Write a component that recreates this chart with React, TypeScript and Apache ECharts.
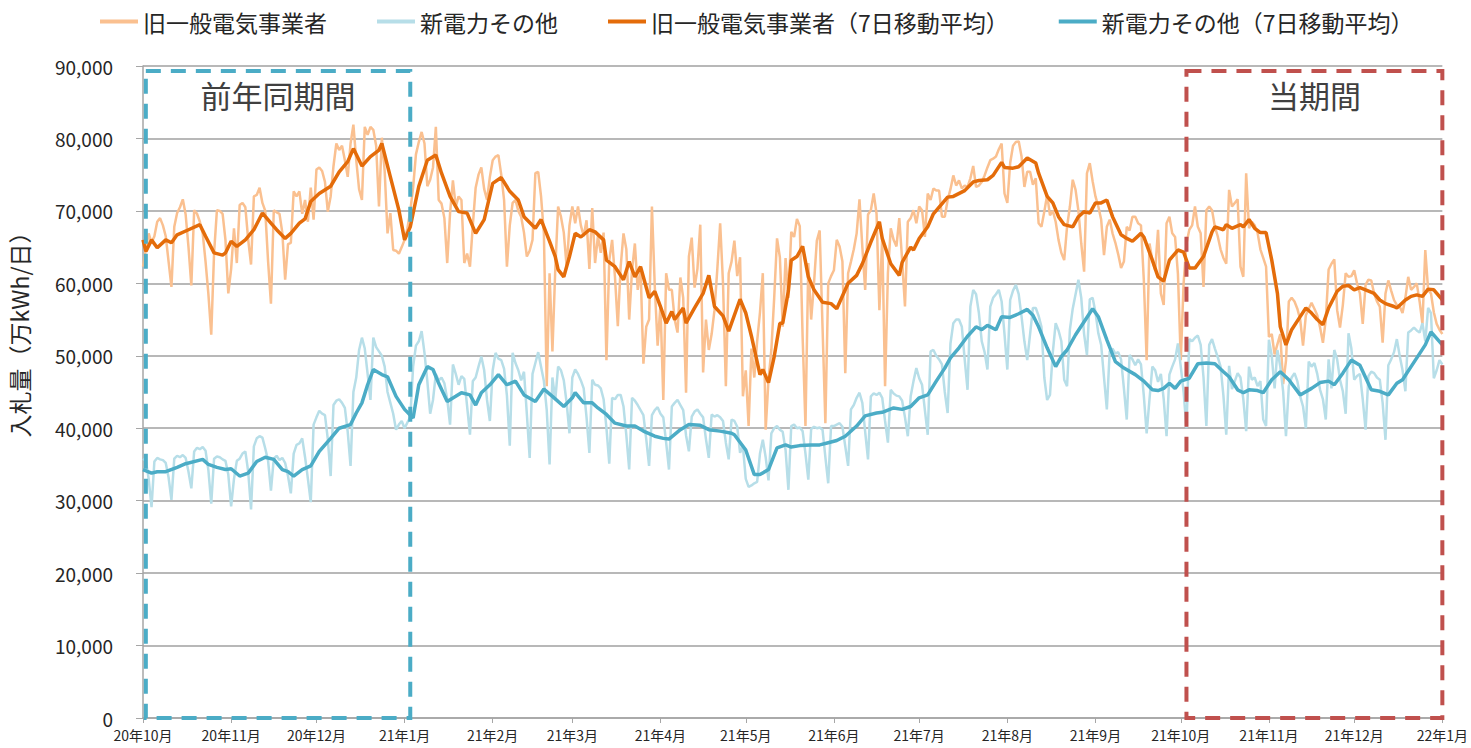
import React, { useEffect, useRef } from "react";
import * as echarts from "echarts";

// ---- data (unit: 千 → multiplied by 1000 => 万kWh/日) ----
const months = [
  "2020-10", "2020-11", "2020-12", "2021-01", "2021-02", "2021-03", "2021-04", "2021-05",
  "2021-06", "2021-07", "2021-08", "2021-09", "2021-10", "2021-11", "2021-12", "2022-01",
];

// 旧一般電気事業者 (daily), one row per month
const oldDaily: number[][] = [
  [62.3, 64.7, 66.9, 65.6, 66.5, 68.5, 69.0, 68.0, 66.5, 63.0, 59.5, 67.8, 69.7, 70.5, 71.6, 69.5, 65.0, 59.7, 70.1, 69.6, 68.5, 66.9, 63.0, 58.5, 52.9, 64.2, 70.1, 70.0, 69.6, 66.0, 58.6],
  [62.0, 67.6, 62.8, 70.8, 71.1, 70.5, 66.0, 62.6, 72.0, 72.2, 73.2, 71.1, 70.0, 63.0, 57.2, 70.1, 69.8, 69.6, 67.0, 60.5, 65.4, 65.6, 72.7, 72.0, 72.7, 69.6, 71.5, 68.5, 73.2, 68.8],
  [75.7, 76.0, 75.5, 74.0, 69.9, 72.0, 76.2, 79.3, 78.4, 79.0, 77.0, 74.7, 79.3, 81.9, 77.0, 73.0, 71.5, 81.6, 80.5, 81.6, 81.2, 79.0, 70.6, 80.1, 75.5, 66.9, 69.7, 64.6, 64.5, 64.1, 65.0],
  [66.0, 67.6, 70.0, 73.2, 77.8, 79.5, 80.9, 79.3, 73.4, 74.3, 76.0, 81.6, 71.5, 71.0, 69.0, 62.8, 69.7, 74.2, 70.6, 72.0, 71.5, 62.8, 64.1, 62.3, 68.0, 73.2, 75.0, 76.0, 73.0, 71.5, 74.7],
  [77.0, 77.5, 77.7, 75.0, 71.5, 62.3, 68.0, 71.1, 71.5, 70.0, 69.2, 67.0, 63.7, 64.5, 66.0, 75.2, 75.4, 72.0, 66.9, 45.8, 61.4, 50.6, 61.9, 70.6, 69.2, 67.0, 62.3, 68.0],
  [70.6, 68.3, 70.6, 68.0, 66.5, 68.7, 62.0, 70.4, 62.8, 66.5, 64.2, 67.0, 49.4, 63.2, 66.0, 60.9, 54.1, 62.3, 66.9, 64.7, 55.0, 61.8, 65.5, 59.1, 62.0, 48.9, 54.0, 55.0, 70.6, 59.6, 51.4],
  [57.0, 43.9, 61.4, 59.1, 59.1, 55.0, 53.2, 60.8, 58.0, 44.9, 63.7, 66.3, 59.4, 62.0, 68.1, 47.7, 55.0, 50.8, 53.0, 56.3, 62.0, 68.3, 60.0, 45.8, 61.4, 63.0, 65.9, 61.0, 63.6, 44.4],
  [48.0, 40.3, 51.0, 47.0, 52.0, 56.0, 61.4, 39.8, 46.7, 50.8, 58.0, 66.2, 63.6, 54.0, 63.5, 58.0, 67.1, 66.4, 68.9, 67.9, 52.6, 40.3, 62.8, 55.0, 60.0, 65.9, 67.3, 54.0, 40.7, 60.0, 61.0],
  [61.8, 66.0, 65.1, 63.0, 47.6, 61.4, 63.0, 64.7, 66.9, 71.6, 65.0, 59.1, 69.5, 70.1, 72.4, 69.6, 56.3, 66.4, 45.8, 61.4, 67.6, 66.0, 65.1, 69.0, 63.2, 56.8, 68.5, 69.0, 70.1, 68.3],
  [70.6, 70.1, 66.4, 72.4, 71.5, 73.1, 72.8, 72.8, 69.2, 69.2, 71.5, 73.0, 74.9, 73.5, 74.2, 73.1, 73.5, 73.3, 74.5, 76.2, 73.3, 73.5, 74.0, 74.9, 76.0, 77.0, 77.2, 77.5, 78.5, 79.3, 72.4],
  [71.1, 76.6, 79.0, 79.5, 79.6, 77.5, 73.3, 75.4, 75.4, 73.6, 74.5, 68.3, 67.8, 69.9, 72.2, 69.4, 70.0, 68.5, 66.0, 64.2, 63.2, 67.8, 70.6, 74.3, 72.9, 70.0, 65.5, 61.6, 75.2, 76.6, 74.1],
  [72.0, 70.6, 68.8, 63.9, 67.8, 68.8, 66.9, 65.6, 64.0, 62.1, 63.0, 67.8, 67.3, 69.2, 69.2, 68.3, 68.0, 60.5, 49.4, 65.5, 63.2, 61.8, 67.4, 58.6, 57.0, 68.3, 69.2, 66.9, 66.4, 61.3],
  [49.4, 60.0, 65.5, 67.4, 68.0, 70.6, 67.8, 66.9, 59.5, 70.1, 70.6, 70.1, 67.8, 66.5, 64.7, 63.5, 62.7, 72.9, 70.6, 71.1, 71.6, 62.3, 60.9, 75.2, 67.6, 68.5, 68.0, 67.0, 64.7, 63.5, 62.3],
  [52.6, 53.0, 50.2, 51.6, 53.0, 46.1, 49.3, 57.5, 58.0, 57.5, 56.5, 55.0, 51.4, 55.6, 56.5, 57.3, 56.5, 55.6, 53.9, 51.8, 55.0, 61.9, 62.7, 63.3, 56.3, 53.9, 57.0, 61.4, 60.9, 61.0],
  [61.8, 60.0, 58.6, 54.4, 59.8, 60.5, 60.4, 58.6, 57.5, 56.8, 51.8, 58.6, 60.4, 59.0, 57.7, 57.0, 56.8, 55.9, 58.0, 60.9, 59.1, 59.5, 60.0, 57.5, 54.4, 64.6, 59.1, 58.6, 56.0, 54.4, 53.6],
  [53.0],
];

// 新電力その他 (daily), one row per month
const newDaily: number[][] = [
  [35.8, 35.5, 33.0, 29.1, 35.4, 35.9, 35.7, 35.6, 35.2, 33.2, 30.1, 35.8, 36.2, 36.0, 36.3, 35.9, 34.0, 31.7, 36.8, 37.3, 37.1, 37.4, 36.9, 34.2, 29.6, 35.8, 36.1, 36.0, 35.7, 35.5, 33.6],
  [29.2, 33.0, 35.5, 35.8, 36.5, 36.8, 34.0, 28.8, 37.5, 38.6, 38.9, 38.7, 37.2, 35.5, 31.4, 35.8, 36.2, 35.6, 35.9, 35.2, 33.4, 31.0, 36.5, 37.7, 37.9, 38.6, 36.0, 33.0, 29.8, 40.5],
  [41.5, 42.4, 42.0, 41.8, 38.5, 33.4, 43.2, 43.8, 44.0, 43.5, 42.8, 39.5, 34.8, 45.0, 47.0, 50.8, 52.5, 51.0, 47.5, 43.9, 52.5, 51.2, 50.6, 50.0, 48.5, 45.0, 43.5, 42.0, 39.8, 40.5, 41.0],
  [40.0, 40.8, 41.5, 48.5, 51.4, 52.0, 53.4, 50.4, 46.5, 42.0, 43.9, 47.5, 46.6, 47.0, 46.2, 44.0, 40.5, 48.8, 47.5, 46.0, 47.2, 46.8, 43.0, 39.1, 46.5, 47.0, 48.5, 49.9, 48.0, 43.9, 41.0],
  [48.0, 50.4, 49.6, 49.4, 48.2, 44.5, 37.6, 50.4, 49.0, 48.0, 46.6, 47.8, 42.0, 35.9, 47.5, 49.0, 50.5, 48.5, 46.5, 42.5, 35.0, 47.0, 43.9, 48.5, 48.0, 46.6, 43.5, 39.3],
  [47.0, 48.1, 47.5, 46.6, 45.5, 41.5, 36.6, 46.7, 46.0, 45.9, 45.5, 44.0, 40.0, 35.1, 44.2, 44.0, 44.6, 44.6, 43.0, 39.0, 34.3, 44.2, 43.8, 43.2, 42.5, 41.8, 38.5, 34.8, 41.8, 42.5, 42.9],
  [42.0, 41.5, 38.0, 34.3, 43.0, 43.5, 43.9, 43.2, 42.5, 39.0, 36.8, 41.6, 42.3, 42.6, 42.0, 41.5, 38.5, 35.9, 41.9, 41.6, 41.8, 41.5, 41.0, 38.0, 35.7, 41.2, 41.0, 40.2, 36.6, 37.5],
  [33.0, 31.9, 32.1, 32.4, 32.6, 36.5, 38.4, 36.0, 32.8, 39.3, 40.0, 40.3, 39.8, 39.5, 37.0, 31.5, 40.3, 40.5, 40.0, 40.1, 39.6, 36.5, 32.9, 39.9, 40.2, 40.0, 40.1, 39.8, 36.0, 32.4, 40.3],
  [40.3, 40.5, 40.7, 40.2, 37.5, 34.8, 42.6, 43.2, 44.2, 44.9, 43.5, 39.5, 35.7, 44.4, 44.8, 44.6, 44.9, 44.2, 41.0, 38.0, 45.3, 44.8, 44.5, 44.4, 43.8, 41.5, 38.9, 44.4, 46.5, 48.3],
  [46.9, 46.0, 42.5, 39.1, 50.6, 50.8, 50.0, 49.5, 48.8, 45.0, 42.1, 51.7, 54.5, 55.0, 55.0, 54.0, 49.5, 45.3, 56.8, 59.1, 58.5, 55.9, 52.0, 50.5, 48.1, 56.8, 58.0, 58.5, 59.1, 57.5, 53.0],
  [48.1, 57.7, 59.0, 59.8, 58.5, 55.4, 52.0, 49.4, 53.0, 56.6, 56.6, 55.5, 54.0, 47.0, 43.9, 44.6, 50.5, 54.5, 53.5, 52.0, 46.7, 45.8, 53.6, 56.5, 58.5, 60.5, 58.0, 53.0, 50.1, 57.8, 58.0],
  [56.0, 53.1, 51.5, 47.0, 42.6, 50.6, 51.0, 50.3, 50.5, 49.5, 45.5, 41.2, 50.1, 49.5, 48.7, 49.5, 48.8, 44.5, 39.3, 44.0, 48.5, 48.0, 46.4, 47.5, 44.0, 38.9, 47.4, 48.5, 49.5, 51.7],
  [48.5, 45.0, 40.0, 52.3, 52.0, 52.5, 52.8, 51.5, 47.0, 40.3, 51.5, 52.3, 51.0, 49.8, 48.5, 44.5, 39.1, 48.6, 45.4, 46.5, 47.6, 47.0, 44.0, 39.6, 48.5, 46.7, 47.0, 45.8, 46.5, 41.2, 40.3],
  [52.2, 50.0, 45.5, 50.8, 48.5, 45.1, 38.9, 45.8, 47.0, 47.6, 46.5, 44.4, 43.0, 40.0, 49.2, 48.5, 49.0, 47.5, 45.3, 44.0, 41.2, 49.5, 45.5, 50.8, 49.5, 46.7, 45.1, 42.0, 53.1, 51.0],
  [46.7, 47.2, 47.5, 44.0, 39.8, 47.2, 47.8, 47.6, 47.0, 46.7, 43.5, 38.4, 48.7, 49.5, 50.5, 52.3, 50.0, 48.0, 45.1, 53.2, 53.5, 53.9, 53.5, 53.2, 54.5, 52.0, 56.6, 55.9, 46.9, 48.0, 49.4],
  [48.8],
];

// 7日移動平均: [days since 2020-10-01, value]
const oldMA: [number, number][] = [
  [0, 66.0], [1, 64.4], [3, 66.0], [5, 64.9], [8, 66.0], [10, 65.6], [12, 66.7], [16, 67.4], [20, 68.1], [22, 66.5],
  [25, 64.2], [28, 63.9], [29, 64.2], [31, 65.8], [33, 65.1], [36, 66.0], [39, 67.4], [42, 69.7], [45, 68.3], [47, 67.4],
  [50, 66.2], [52, 66.9], [55, 68.3], [57, 68.9], [59, 71.3], [62, 72.4], [66, 73.4], [69, 75.4], [72, 76.8], [74, 78.6],
  [77, 76.2], [80, 77.5], [83, 78.4], [84, 79.3], [87, 74.7], [90, 70.1], [92, 66.0], [94, 67.8], [97, 73.4], [100, 77.0],
  [103, 77.7], [105, 75.2], [108, 72.0], [111, 69.9], [114, 69.7], [117, 66.9], [120, 68.8], [123, 73.8], [126, 74.6], [129, 72.7],
  [132, 71.5], [134, 69.2], [138, 67.6], [140, 68.8], [143, 65.8], [145, 63.7], [146, 61.9], [148, 60.9], [150, 63.7], [152, 66.9],
  [154, 66.4], [157, 67.4], [159, 67.1], [162, 66.0], [163, 63.2], [166, 62.3], [169, 60.5], [171, 63.0], [173, 60.9], [175, 62.3],
  [178, 58.0], [180, 58.9], [182, 56.8], [184, 54.5], [186, 56.1], [187, 55.0], [190, 56.6], [191, 54.5], [194, 56.6], [197, 58.6],
  [199, 61.1], [201, 56.8], [204, 55.5], [206, 53.4], [210, 57.8], [212, 55.9], [214, 52.7], [217, 47.4], [218, 48.1], [220, 46.3],
  [222, 49.9], [224, 54.5], [225, 54.5], [227, 59.0], [228, 63.2], [230, 63.7], [232, 65.1], [234, 60.9], [236, 59.1], [239, 57.4],
  [242, 57.2], [244, 56.5], [248, 60.0], [251, 61.1], [253, 62.7], [256, 65.7], [259, 68.5], [260, 66.2], [263, 62.7], [266, 61.1],
  [267, 62.9], [270, 65.0], [271, 64.6], [273, 66.2], [276, 67.8], [278, 69.6], [283, 71.9], [285, 72.0], [289, 72.8], [292, 74.0],
  [294, 74.2], [297, 74.3], [299, 74.9], [302, 76.7], [303, 76.0], [306, 75.9], [308, 76.1], [311, 77.3], [314, 76.6], [315, 75.2],
  [318, 72.0], [320, 71.1], [322, 69.2], [324, 68.1], [327, 67.8], [329, 69.2], [331, 69.9], [333, 69.7], [335, 71.1], [337, 71.1],
  [339, 71.5], [341, 69.2], [344, 66.7], [346, 66.2], [348, 65.8], [351, 66.9], [352, 66.4], [355, 63.2], [357, 60.9], [359, 60.3],
  [361, 63.2], [364, 64.6], [366, 64.3], [368, 62.1], [370, 62.1], [373, 63.7], [376, 67.1], [377, 67.8], [380, 67.4], [381, 68.1],
  [383, 67.6], [386, 68.1], [387, 67.8], [389, 68.8], [391, 67.6], [393, 67.0], [395, 67.0], [397, 63.2], [399, 58.6], [400, 54.0],
  [402, 51.5], [404, 53.6], [407, 55.4], [409, 56.6], [411, 55.9], [413, 55.0], [415, 54.3], [417, 56.6], [420, 58.9], [422, 59.6],
  [424, 59.7], [426, 59.1], [428, 59.4], [430, 59.1], [433, 58.6], [435, 57.7], [437, 57.2], [440, 56.8], [441, 56.6], [444, 57.7],
  [446, 58.2], [448, 58.4], [450, 58.2], [452, 59.2], [454, 59.1], [457, 57.7],
];

const newMA: [number, number][] = [
  [0, 34.3], [3, 33.8], [5, 34.0], [8, 34.0], [12, 34.6], [15, 35.1], [21, 35.7], [23, 35.0], [26, 34.6], [29, 34.3],
  [31, 34.4], [34, 33.4], [37, 33.8], [40, 35.4], [43, 36.0], [46, 35.7], [49, 34.3], [51, 34.0], [53, 33.4], [56, 34.3],
  [59, 34.8], [62, 36.8], [66, 38.6], [69, 40.0], [73, 40.5], [75, 42.1], [77, 43.5], [79, 46.0], [81, 48.1], [84, 47.4],
  [86, 47.1], [89, 44.4], [92, 42.6], [95, 41.4], [97, 46.0], [100, 48.5], [102, 48.1], [104, 46.2], [107, 43.7], [110, 44.4],
  [112, 44.9], [115, 44.6], [117, 43.2], [119, 44.9], [122, 46.0], [125, 47.4], [128, 46.0], [131, 46.5], [134, 44.6], [138, 43.7],
  [141, 45.4], [144, 44.4], [148, 43.0], [151, 44.2], [152, 44.9], [155, 43.5], [158, 43.5], [160, 42.8], [163, 41.9], [166, 40.7],
  [170, 40.3], [173, 40.3], [176, 39.6], [180, 38.9], [183, 38.6], [185, 38.5], [189, 39.8], [192, 40.5], [196, 40.4], [199, 39.8],
  [203, 39.6], [207, 39.3], [208, 39.1], [212, 37.0], [215, 33.6], [217, 33.6], [220, 34.3], [223, 37.3], [226, 37.7], [228, 37.4],
  [231, 37.6], [235, 37.7], [238, 37.7], [241, 38.0], [244, 38.3], [247, 38.9], [251, 40.3], [254, 41.7], [258, 42.1], [260, 42.2],
  [264, 42.8], [267, 42.6], [270, 43.0], [273, 44.2], [276, 44.6], [279, 46.5], [282, 48.3], [284, 49.7], [287, 51.1], [290, 52.7],
  [293, 54.0], [295, 53.6], [297, 54.2], [300, 53.6], [302, 55.4], [305, 55.3], [308, 55.8], [311, 56.4], [313, 55.6], [315, 54.0],
  [318, 51.1], [321, 48.5], [323, 49.9], [325, 50.8], [328, 52.9], [331, 54.7], [334, 56.5], [336, 55.4], [339, 52.2], [342, 49.2],
  [345, 48.3], [349, 47.4], [352, 46.5], [355, 45.3], [357, 45.2], [359, 45.5], [361, 46.2], [363, 45.5], [365, 46.5], [368, 46.9],
  [371, 48.9], [374, 49.0], [377, 48.9], [380, 47.8], [382, 47.1], [385, 45.3], [387, 44.9], [389, 45.3], [392, 45.2], [394, 44.9],
  [397, 46.7], [400, 47.8], [403, 46.7], [407, 44.6], [411, 45.5], [414, 46.3], [417, 46.5], [419, 46.0], [422, 47.6], [425, 49.4],
  [428, 48.7], [432, 45.3], [435, 45.1], [438, 44.6], [441, 46.2], [443, 46.7], [446, 48.5], [449, 50.3], [451, 51.5], [453, 53.3],
  [455, 52.4], [457, 51.5],
];

const seriesNames = ["旧一般電気事業者", "新電力その他", "旧一般電気事業者（7日移動平均）", "新電力その他（7日移動平均）"];
const periodLabels = ["前年同期間", "当期間"];
// [start day, end day] since 2020-10-01
const periodRanges: [number, number][] = [[1, 94], [367, 457]];
const yAxisTitle = "入札量（万kWh/日）";
const FONT = "'Noto Sans CJK JP', 'Noto Sans', sans-serif";

function buildDates(): string[] {
  const out: string[] = [];
  const start = Date.UTC(2020, 9, 1);
  for (let i = 0; i <= 457; i++) {
    out.push(new Date(start + i * 86400000).toISOString().slice(0, 10));
  }
  return out;
}

export default function App() {
  const ref = useRef<HTMLDivElement>(null);
  useEffect(() => {
    if (!ref.current) return;
    const chart = echarts.init(ref.current, undefined, { renderer: "svg" });
    const dates = buildDates();
    const toDaily = (rows: number[][]) => {
      const out: [number, number][] = [];
      rows.forEach((row, mi) => {
        const s = dates.indexOf(months[mi] + "-01");
        row.forEach((v, i) => out.push([s + i, Math.round(v * 1000)]));
      });
      return out;
    };
    const toMA = (pts: [number, number][]) => pts.map(([d, v]) => [d, Math.round(v * 1000)]);
    const isMonthStart = (_i: number, v: string) => v.slice(8) === "01";

    const boxStyle = (color: string) => ({
      color: "rgba(0,0,0,0)",
      borderColor: color,
      borderWidth: 4,
      borderType: [15, 10],
    });
    const boxLabel = {
      show: true,
      position: "insideTop",
      distance: 10,
      fontSize: 31,
      color: "#404040",
      fontFamily: FONT,
    };

    chart.setOption({
      animation: false,
      textStyle: { fontFamily: FONT },
      grid: { left: 143, right: 26, top: 66, bottom: 30, containLabel: false },
      legend: {
        data: seriesNames,
        left: 95,
        top: 5,
        icon: "rect",
        itemWidth: 38,
        itemHeight: 4,
        itemGap: 50,
        textStyle: { fontSize: 23, color: "#262626", fontFamily: FONT },
      },
      xAxis: {
        type: "category",
        data: dates,
        boundaryGap: false,
        axisLine: { show: true, lineStyle: { color: "#A6A6A6", width: 1.5 } },
        axisTick: { show: true, interval: isMonthStart, length: 5, lineStyle: { color: "#A6A6A6" } },
        axisLabel: {
          interval: isMonthStart,
          formatter: (v: string) => `${v.slice(2, 4)}年${parseInt(v.slice(5, 7), 10)}月`,
          fontSize: 14,
          lineHeight: 16,
          color: "#262626",
          margin: 9,
          fontFamily: FONT,
        },
        splitLine: { show: false },
      },
      yAxis: {
        type: "value",
        min: 0,
        max: 90000,
        interval: 10000,
        axisLine: { show: true, lineStyle: { color: "#A6A6A6", width: 1.5 } },
        axisTick: { show: true, length: 7, lineStyle: { color: "#A6A6A6" } },
        axisLabel: {
          formatter: (v: number) => v.toLocaleString("en-US"),
          fontSize: 19,
          color: "#262626",
          margin: 30,
          fontFamily: FONT,
        },
        splitLine: { show: true, lineStyle: { color: "#A0A0A0", width: 1.5 } },
      },
      graphic: [
        {
          type: "text",
          x: 19,
          y: 329,
          rotation: Math.PI / 2,
          style: {
            text: yAxisTitle,
            fontSize: 23,
            fontFamily: FONT,
            fill: "#262626",
            align: "center",
            verticalAlign: "middle",
            textAlign: "center",
            textVerticalAlign: "middle",
          },
        },
      ],
      series: [
        {
          name: seriesNames[0],
          type: "line",
          data: toDaily(oldDaily),
          showSymbol: false,
          symbol: "none",
          lineStyle: { color: "#FAC090", width: 2.5 },
          itemStyle: { color: "#FAC090" },
          z: 2,
        },
        {
          name: seriesNames[1],
          type: "line",
          data: toDaily(newDaily),
          showSymbol: false,
          symbol: "none",
          lineStyle: { color: "#B7DEE8", width: 2.5 },
          itemStyle: { color: "#B7DEE8" },
          z: 2,
        },
        {
          name: seriesNames[2],
          type: "line",
          data: toMA(oldMA),
          showSymbol: false,
          symbol: "none",
          lineStyle: { color: "#E46C0A", width: 3.5 },
          itemStyle: { color: "#E46C0A" },
          z: 3,
        },
        {
          name: seriesNames[3],
          type: "line",
          data: toMA(newMA),
          showSymbol: false,
          symbol: "none",
          lineStyle: { color: "#4BACC6", width: 3.5 },
          itemStyle: { color: "#4BACC6" },
          z: 3,
        },
        {
          name: "_boxes",
          type: "line",
          data: [],
          silent: true,
          z: 10,
          markArea: {
            silent: true,
            z: 10,
            data: [
              [
                { xAxis: dates[periodRanges[0][0]], yAxis: 89300, itemStyle: boxStyle("#4BACC6"), label: { ...boxLabel, formatter: periodLabels[0] } },
                { xAxis: dates[periodRanges[0][1]], yAxis: 0 },
              ],
              [
                { xAxis: dates[periodRanges[1][0]], yAxis: 89300, itemStyle: boxStyle("#C0504D"), label: { ...boxLabel, formatter: periodLabels[1] } },
                { xAxis: dates[periodRanges[1][1]], yAxis: 0 },
              ],
            ],
          },
        },
      ],
    });
    return () => chart.dispose();
  }, []);
  return (
    <div
      ref={ref}
      style={{ position: "fixed", left: 0, top: 0, width: "1471px", height: "748px", background: "#fff" }}
    />
  );
}
